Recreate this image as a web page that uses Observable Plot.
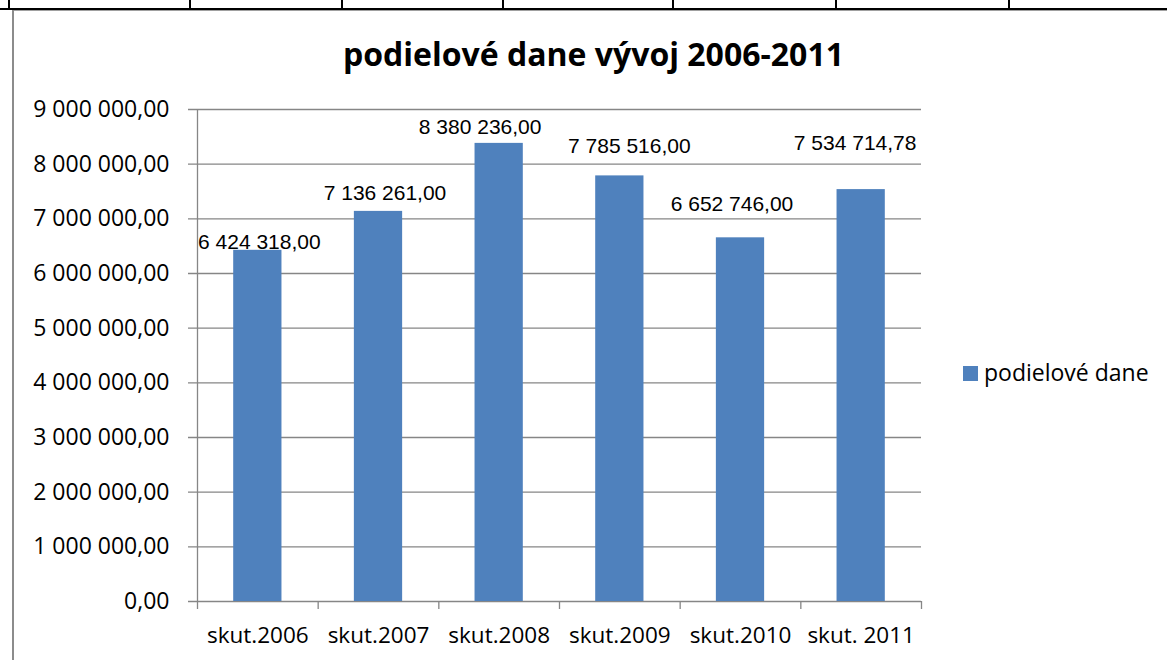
<!DOCTYPE html>
<html>
<head>
<meta charset="utf-8">
<script src="https://cdn.jsdelivr.net/npm/d3@7"></script>
<script src="https://cdn.jsdelivr.net/npm/@observablehq/plot@0.6"></script>
<style>
  html, body { margin: 0; padding: 0; background: #fff; }
  body { width: 1167px; height: 660px; overflow: hidden; position: relative; font-family: "Open Sans", sans-serif; }
  #chart { position: absolute; left: 0; top: 0; }
  .hline { position: absolute; left: 0; top: 8px; width: 1167px; height: 2px; background: #000; }
  .vline { position: absolute; top: 0; width: 2px; height: 9px; background: #000; }
  .frameTop { position: absolute; left: 12px; top: 10px; width: 1155px; height: 1px; background: #a0a0a0; }
  .frameLeft { position: absolute; left: 12px; top: 10px; width: 2px; height: 650px; background: #8c8c8c; }
  #title { position: absolute; left: 0; width: 1187px; text-align: center; top: 38px; line-height: 32px;
           font-family: "Open Sans", sans-serif; font-weight: bold; font-size: 32px; color: #000; }
  #legend { position: absolute; left: 963px; top: 361px; display: flex; align-items: center; }
  #legend .sw { width: 15px; height: 15px; background: #4F81BD; margin-right: 6px; margin-top: 2px; }
  #legend .lt { font-family: "Open Sans", sans-serif; font-size: 23px; line-height: 23px; color: #000; }
</style>
</head>
<body>
<div class="hline"></div>
<div class="frameTop"></div>
<div class="frameLeft"></div>
<div id="cells"></div>
<div id="title"></div>
<div id="chart"></div>
<div id="legend"><span class="sw"></span><span class="lt"></span></div>
<script>
// ---- data ----
const chartTitle = "podielové dane vývoj 2006-2011";
const seriesName = "podielové dane";
const categories = ["skut.2006", "skut.2007", "skut.2008", "skut.2009", "skut.2010", "skut. 2011"];
const values = [6424318.00, 7136261.00, 8380236.00, 7785516.00, 6652746.00, 7534714.78];
const yTicks = [0, 1000000, 2000000, 3000000, 4000000, 5000000, 6000000, 7000000, 8000000, 9000000];

// ---- spreadsheet cell borders above the chart (decoration) ----
const cellEdges = [9, 190, 342, 503, 673, 836, 1009];
const cells = document.getElementById("cells");
cellEdges.forEach(x => {
  const d = document.createElement("div");
  d.className = "vline"; d.style.left = (x - 1) + "px";
  cells.appendChild(d);
});

document.getElementById("title").textContent = chartTitle;
document.querySelector("#legend .lt").textContent = seriesName;

const locale = d3.formatLocale({decimal: ",", thousands: " ", grouping: [3], currency: ["", ""]});
const fmt = locale.format(",.2f");

const data = categories.map((c, i) => ({cat: c, value: values[i]}));

const W = 1167, H = 660;
const mL = 197, mR = 246, mT = 109, mB = 59;
const step = (W - mL - mR) / categories.length;
const gray = "#868686";

// manual label nudges (like hand-moved Excel data labels): [dx, dy]
const labelNudge = [[1.5, -8], [6.5, -18], [-19, -16], [9.5, -30], [-8.5, -34], [-6, -46]];

const labelMarks = data.map((d, i) => Plot.text([d], {
  x: "cat", y: "value", text: r => fmt(r.value),
  dx: labelNudge[i][0], dy: labelNudge[i][1],
  fontFamily: "Liberation Sans, Arial, sans-serif", fontSize: 21, fill: "#000", lineAnchor: "middle"
}));

const chart = Plot.plot({
  width: W, height: H,
  marginLeft: mL, marginRight: mR, marginTop: mT, marginBottom: mB,
  x: {domain: categories, paddingInner: 0.6, paddingOuter: 0.3, round: false, axis: null, label: null},
  y: {domain: [0, 9000000], axis: null, label: null},
  style: {background: "transparent", color: "#000", fontFamily: "Open Sans, sans-serif"},
  marks: [
    Plot.ruleY(yTicks, {stroke: gray, strokeWidth: 1.3, insetLeft: -9}),
    Plot.ruleX(categories.slice(0, 1), {x: d => d, y1: 0, y2: 9000000, dx: -step / 2, stroke: gray, strokeWidth: 1.3}),
    Plot.ruleX(categories, {x: d => d, y1: 0, y2: 0, insetBottom: -8, dx: -step / 2, stroke: gray, strokeWidth: 1.3}),
    Plot.ruleX(categories.slice(-1), {x: d => d, y1: 0, y2: 0, insetBottom: -8, dx: step / 2, stroke: gray, strokeWidth: 1.3}),
    Plot.barY(data, {x: "cat", y: "value", fill: "#4F81BD"}),
    Plot.axisY({ticks: yTicks, tickSize: 0, tickPadding: 28, tickFormat: fmt, label: null, fontSize: 23, fontFamily: "Open Sans, sans-serif"}),
    Plot.axisX({tickSize: 0, tickPadding: 26, label: null, fontSize: 22.5, fontFamily: "Open Sans, sans-serif"}),
    ...labelMarks
  ]
});
document.getElementById("chart").appendChild(chart);
</script>
</body>
</html>
